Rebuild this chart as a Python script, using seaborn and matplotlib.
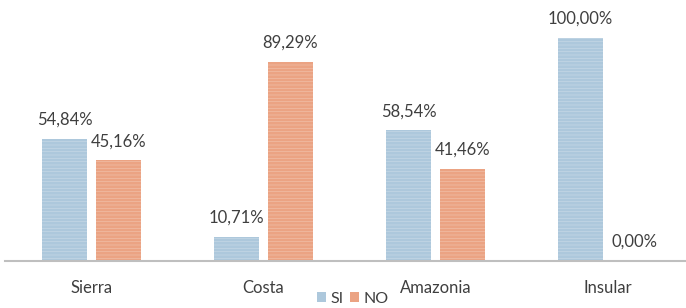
import numpy as np
import pandas as pd
import matplotlib
matplotlib.use('Agg')
import matplotlib.pyplot as plt
import seaborn as sns

# datos
regiones = ['Sierra', 'Costa', 'Amazonia', 'Insular']
si_vals = [54.84, 10.71, 58.54, 100.00]
no_vals = [45.16, 89.29, 41.46, 0.00]

df = pd.DataFrame({
    'region': regiones * 2,
    'grupo': ['SI'] * 4 + ['NO'] * 4,
    'valor': si_vals + no_vals,
})

sns.set_theme(style='white')
plt.rcParams['font.family'] = ['Lato', 'DejaVu Sans']
plt.rcParams['hatch.linewidth'] = 0.4

colores = {'SI': '#adc8dc', 'NO': '#eba383'}
gris = '#3f3f3f'

fig = plt.figure(figsize=(6.86, 3.08), dpi=100)
ax = fig.add_axes([0.008, 0.1526, 0.997, 0.8474])

sns.barplot(data=df, x='region', y='valor', hue='grupo', order=regiones,
            hue_order=['SI', 'NO'], palette=colores, width=0.628, gap=0.166,
            saturation=1, ax=ax, legend=True)

# textura de lineas horizontales
for p in ax.patches:
    p.set_hatch('-----')
    p.set_edgecolor((1, 1, 1, 0.35))
    p.set_linewidth(0)

for cont in ax.containers:
    ax.bar_label(cont, labels=[f'{v:.2f}%'.replace('.', ',') for v in cont.datavalues],
                 padding=8, fontsize=12, color=gris)

ax.set_ylim(0, 117)
ax.set_xlim(-0.5, 3.477)
ax.set_xlabel('')
ax.set_ylabel('')
ax.set_yticks([])
ax.tick_params(axis='x', length=0, pad=14, labelsize=12, labelcolor=gris)
for s in ['top', 'right', 'left']:
    ax.spines[s].set_visible(False)
ax.spines['bottom'].set_color('#bfbfbf')
ax.spines['bottom'].set_linewidth(1.5)

leg = ax.legend(loc='center', bbox_to_anchor=(0.508, -0.145), ncol=2, frameon=False,
                fontsize=11.5, handlelength=0.55, handleheight=0.55, handletextpad=0.3,
                columnspacing=0.4, labelcolor=gris)
for h in leg.legend_handles:
    h.set_hatch(None)

fig.savefig('out.png', dpi=100)
